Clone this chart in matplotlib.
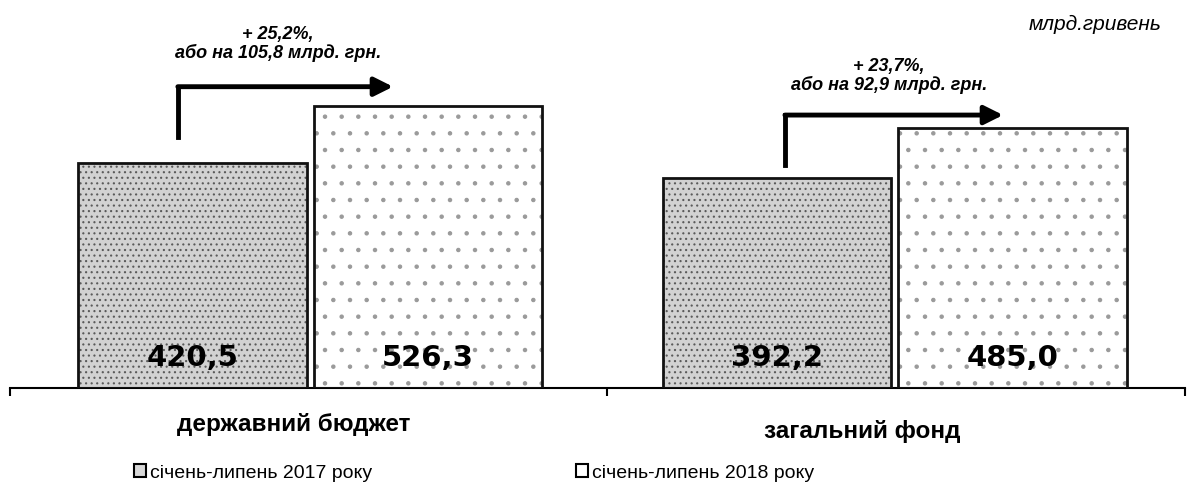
import matplotlib
matplotlib.use("Agg")
import matplotlib.pyplot as plt
from matplotlib.patches import Patch
import numpy as np

plt.rcParams['font.family'] = ['Liberation Sans', 'DejaVu Sans']
plt.rcParams['hatch.linewidth'] = 0.8

# ---- data ----
categories = ["державний бюджет", "загальний фонд"]
series_names = ["січень-липень 2017 року", "січень-липень 2018 року"]
values_2017 = [420.5, 392.2]
values_2018 = [526.3, 485.0]
value_labels_2017 = ["420,5", "392,2"]
value_labels_2018 = ["526,3", "485,0"]
growth_labels = ["+ 25,2%,\nабо на 105,8 млрд. грн.",
                 "+ 23,7%,\nабо на 92,9 млрд. грн."]
unit_label = "млрд.гривень"

W, H = 1193, 488
fig = plt.figure(figsize=(W / 100, H / 100), dpi=100)
fig.patch.set_facecolor("white")
ax = fig.add_axes([10 / W, 100 / H, 1175 / W, 388 / H])

x = np.arange(len(categories))
bw = 0.39
off = 0.201

# fills with speckle hatch (no outline), then crisp outlines
ax.bar(x - off, values_2017, width=bw, facecolor="#d2d2d2", edgecolor="#5a5a5a",
       linewidth=0, hatch="...", zorder=2)
ax.bar(x + off, values_2018, width=bw, facecolor="white", edgecolor="#9a9a9a",
       linewidth=0, hatch=".", zorder=2)
ax.bar(x - off, values_2017, width=bw, fill=False, edgecolor="#111111",
       linewidth=2, zorder=3)
ax.bar(x + off, values_2018, width=bw, fill=False, edgecolor="#111111",
       linewidth=2, zorder=3)

for i in range(len(categories)):
    ax.text(x[i] - off, 56, value_labels_2017[i], ha="center", va="center",
            fontsize=21, fontweight="bold", family="DejaVu Sans", zorder=4)
    ax.text(x[i] + off, 56, value_labels_2018[i], ha="center", va="center",
            fontsize=21, fontweight="bold", family="DejaVu Sans", zorder=4)

xl = (-0.513, 1.496)
ax.set_xlim(*xl)
ax.set_ylim(0, 725)

for s in ["top", "right", "left"]:
    ax.spines[s].set_visible(False)
ax.spines["bottom"].set_linewidth(1.5)
ax.set_yticks([])
ax.set_xticks([xl[0], 0.508, xl[1]])
ax.set_xticklabels([])
ax.tick_params(axis="x", direction="out", length=6, width=1.5)

# category labels
cat_dx = [-0.028, -0.056]
cat_y = [-0.093, -0.113]
for i, c in enumerate(categories):
    ax.text(x[i] + cat_dx[i], cat_y[i], c, transform=ax.get_xaxis_transform(),
            ha="center", va="center", fontsize=17.5, fontweight="bold")

# growth arrows
arrow_x0 = [-0.226, 0.812]
arrow_y0 = [469, 417]
arrow_y1 = [563, 510]
arrow_x1 = [0.142, 1.185]
text_xy = [(-0.055, 643), (0.99, 583)]
for i in range(2):
    ax.plot([arrow_x0[i], arrow_x0[i]], [arrow_y0[i], arrow_y1[i]], color="black",
            lw=3.5, solid_capstyle="projecting", zorder=4)
    ax.annotate("", xy=(arrow_x1[i], arrow_y1[i]), xytext=(arrow_x0[i], arrow_y1[i]),
                arrowprops=dict(arrowstyle="-|>", lw=3.5, color="black",
                                mutation_scale=28, shrinkA=0, shrinkB=0), zorder=4)
    ax.text(text_xy[i][0], text_xy[i][1], growth_labels[i], ha="center", va="center",
            fontsize=13, fontweight="bold", style="italic", linespacing=1.1)

fig.text(1162 / W, 1 - 24 / H, unit_label, ha="right", va="center",
         fontsize=15, style="italic")

handles = [Patch(facecolor="#d8d8d8", edgecolor="black", linewidth=1.5),
           Patch(facecolor="white", edgecolor="black", linewidth=1.5)]
fig.legend(handles, series_names, loc="center", bbox_to_anchor=(474 / W, 15 / H),
           ncol=2, frameon=False, fontsize=14, handlelength=0.6, handleheight=0.6,
           handletextpad=0.2, columnspacing=10.5)

fig.savefig("out.png", dpi=100, facecolor="white")
